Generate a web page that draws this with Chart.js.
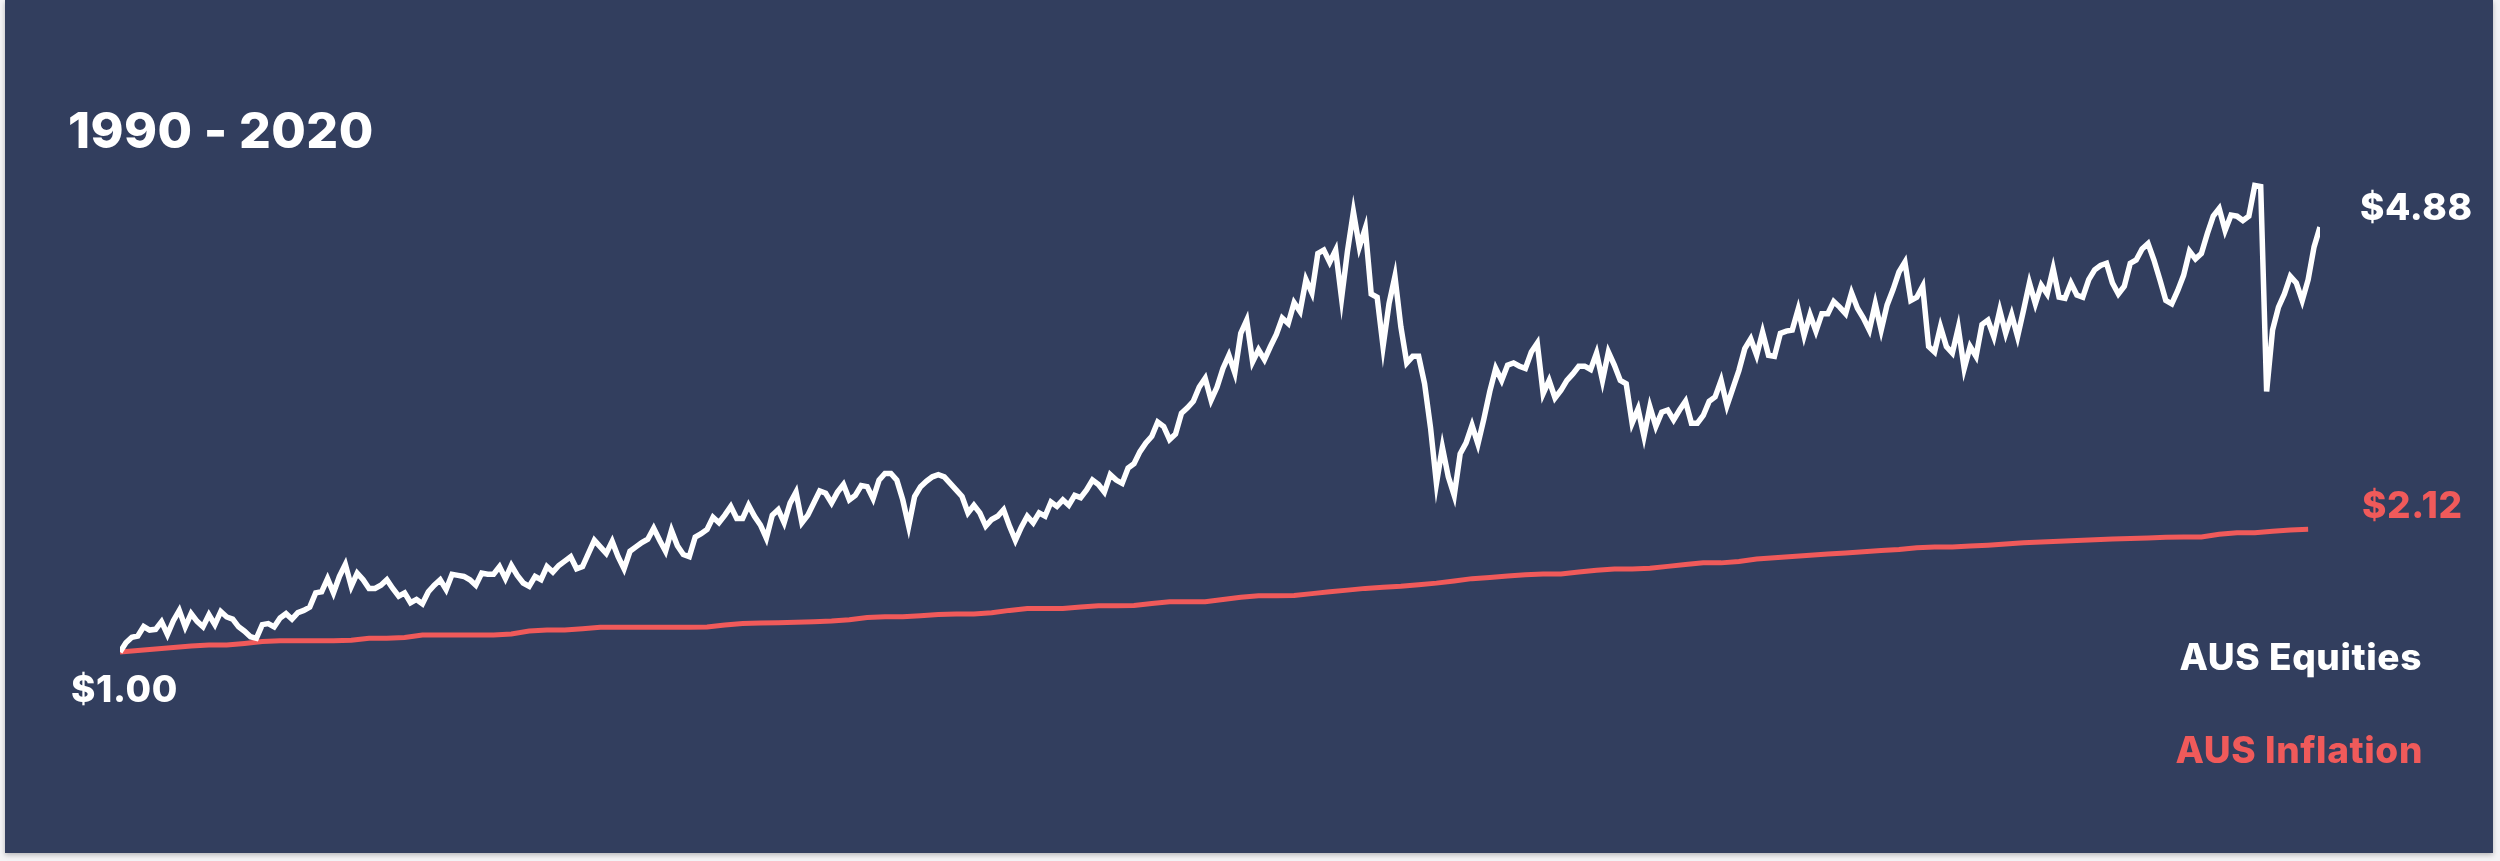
<!DOCTYPE html>
<html>
<head>
<meta charset="utf-8">
<script src="https://cdn.jsdelivr.net/npm/chart.js"></script>
<style>
  html, body { margin: 0; padding: 0; }
  body { width: 2500px; height: 861px; background: #f4f4f6; position: relative; overflow: hidden; font-family: Inter, "Noto Sans", sans-serif; }
  #panel { position: absolute; left: 5px; top: 0; width: 2488px; height: 853px; background: #323e5e; box-shadow: 0 2px 5px rgba(0,0,0,0.25); }
  #myChart { position: absolute; left: 0; top: 0; }
  .lbl { position: absolute; font-weight: 800; line-height: 1; white-space: nowrap; color: #ffffff; letter-spacing: 0.6px; }
  .red { color: #f05a5a; }
</style>
</head>
<body>
<div id="panel"></div>
<canvas id="myChart" width="2500" height="861"></canvas>
<div class="lbl" style="left:68px; top:105px; font-size:50px; letter-spacing:0.4px;">1990 - 2020</div>
<div class="lbl" style="left:71px; top:670px; font-size:37px;">$1.00</div>
<div class="lbl" style="left:2360px; top:188px; font-size:37px;">$4.88</div>
<div class="lbl red" style="left:2362px; top:486px; font-size:37px;">$2.12</div>
<div class="lbl" style="right:78px; top:638px; font-size:37px; text-align:right;">AUS Equities</div>
<div class="lbl red" style="right:77px; top:731px; font-size:37px; text-align:right;">AUS Inflation</div>
<script>
// growth of $1, monthly from Jan 1990 to Dec 2020
const equities = [
  1.00, 1.085, 1.134, 1.146, 1.232, 1.20, 1.207, 1.277, 1.16, 1.286,
  1.38, 1.23, 1.35, 1.28, 1.23, 1.34, 1.25, 1.37, 1.32, 1.30,
  1.23, 1.19, 1.14, 1.125, 1.25, 1.26, 1.23, 1.31, 1.35, 1.30,
  1.36, 1.38, 1.41, 1.54, 1.55, 1.67, 1.54, 1.69, 1.80, 1.60,
  1.72, 1.66, 1.58, 1.58, 1.61, 1.66, 1.58, 1.51, 1.54, 1.45,
  1.48, 1.44, 1.55, 1.61, 1.66, 1.57, 1.71, 1.70, 1.69, 1.66,
  1.61, 1.72, 1.71, 1.71, 1.78, 1.67, 1.79, 1.70, 1.63, 1.60,
  1.69, 1.66, 1.78, 1.73, 1.79, 1.83, 1.87, 1.76, 1.78, 1.90,
  2.02, 1.96, 1.90, 2.01, 1.87, 1.76, 1.92, 1.96, 2.00, 2.03,
  2.13, 2.02, 1.92, 2.11, 1.97, 1.89, 1.87, 2.05, 2.08, 2.12,
  2.23, 2.18, 2.25, 2.33, 2.22, 2.22, 2.34, 2.24, 2.16, 2.04,
  2.25, 2.30, 2.18, 2.36, 2.46, 2.18, 2.25, 2.36, 2.47, 2.45,
  2.36, 2.46, 2.53, 2.39, 2.43, 2.52, 2.51, 2.40, 2.57, 2.63,
  2.63, 2.57, 2.39, 2.15, 2.42, 2.51, 2.56, 2.60, 2.62, 2.60,
  2.54, 2.48, 2.42, 2.27, 2.34, 2.27, 2.15, 2.21, 2.24, 2.30,
  2.15, 2.02, 2.14, 2.24, 2.18, 2.27, 2.24, 2.37, 2.33, 2.39,
  2.34, 2.43, 2.41, 2.48, 2.57, 2.53, 2.46, 2.62, 2.57, 2.54,
  2.68, 2.72, 2.83, 2.91, 2.97, 3.10, 3.06, 2.94, 2.99, 3.18,
  3.23, 3.29, 3.42, 3.50, 3.30, 3.42, 3.59, 3.71, 3.55, 3.91,
  4.03, 3.65, 3.76, 3.67, 3.79, 3.90, 4.05, 4.00, 4.19, 4.11,
  4.40, 4.28, 4.64, 4.67, 4.56, 4.67, 4.23, 4.66, 5.02, 4.70,
  4.87, 4.27, 4.24, 3.79, 4.18, 4.43, 3.97, 3.64, 3.70, 3.70,
  3.45, 3.05, 2.54, 2.87, 2.60, 2.43, 2.81, 2.91, 3.07, 2.90,
  3.13, 3.38, 3.59, 3.48, 3.62, 3.64, 3.61, 3.59, 3.74, 3.82,
  3.36, 3.48, 3.32, 3.39, 3.48, 3.54, 3.61, 3.61, 3.58, 3.73,
  3.48, 3.74, 3.62, 3.48, 3.45, 3.09, 3.22, 2.97, 3.24, 3.06,
  3.19, 3.21, 3.12, 3.21, 3.29, 3.09, 3.09, 3.16, 3.29, 3.33,
  3.48, 3.25, 3.41, 3.57, 3.77, 3.86, 3.71, 3.92, 3.71, 3.70,
  3.91, 3.93, 3.94, 4.13, 3.89, 4.08, 3.93, 4.09, 4.09, 4.20,
  4.15, 4.09, 4.28, 4.14, 4.05, 3.94, 4.18, 3.94, 4.17, 4.31,
  4.47, 4.56, 4.21, 4.24, 4.34, 3.79, 3.74, 3.97, 3.79, 3.73,
  3.96, 3.59, 3.79, 3.70, 3.99, 4.03, 3.88, 4.12, 3.91, 4.08,
  3.88, 4.12, 4.37, 4.18, 4.35, 4.27, 4.50, 4.24, 4.23, 4.37,
  4.26, 4.24, 4.40, 4.49, 4.53, 4.55, 4.37, 4.27, 4.34, 4.55,
  4.58, 4.68, 4.73, 4.58, 4.40, 4.21, 4.18, 4.30, 4.44, 4.66,
  4.59, 4.64, 4.82, 4.98, 5.05, 4.85, 4.99, 4.98, 4.94, 4.98,
  5.26, 5.25, 3.38, 3.94, 4.15, 4.27, 4.43, 4.37, 4.21, 4.40,
  4.70, 4.88
]
// inflation index, quarterly from Q1 1990
const inflation = [
  1.000, 1.013, 1.027, 1.041, 1.054, 1.064, 1.064, 1.078, 1.095, 1.103,
  1.103, 1.103, 1.103, 1.108, 1.125, 1.125, 1.132, 1.155, 1.155, 1.155,
  1.155, 1.155, 1.164, 1.191, 1.200, 1.200, 1.213, 1.226, 1.226, 1.226,
  1.226, 1.226, 1.226, 1.229, 1.246, 1.261, 1.264, 1.268, 1.271, 1.277,
  1.284, 1.295, 1.314, 1.322, 1.322, 1.332, 1.343, 1.347, 1.347, 1.359,
  1.380, 1.397, 1.397, 1.397, 1.410, 1.423, 1.423, 1.424, 1.442, 1.458,
  1.458, 1.458, 1.480, 1.500, 1.513, 1.513, 1.516, 1.533, 1.550, 1.565,
  1.581, 1.591, 1.601, 1.615, 1.629, 1.648, 1.670, 1.681, 1.693, 1.705,
  1.713, 1.713, 1.730, 1.746, 1.759, 1.759, 1.765, 1.782, 1.800, 1.814,
  1.814, 1.827, 1.849, 1.861, 1.873, 1.884, 1.894, 1.905, 1.915, 1.926,
  1.936, 1.952, 1.959, 1.959, 1.967, 1.975, 1.986, 1.997, 2.005, 2.012,
  2.019, 2.025, 2.031, 2.036, 2.042, 2.049, 2.050, 2.051, 2.075, 2.090,
  2.090, 2.102, 2.115, 2.120
]
// months since Jan 1990 for each series
const equityMonths = equities.map((v, i) => i)
const inflationMonths = inflation.map((v, q) => q * 3)

const ctx = document.getElementById('myChart')

new Chart(ctx, {
  type: 'line',
  data: {
    datasets: [{
      label: 'AUS Inflation',
      data: inflation.map((v, i) => ({x: inflationMonths[i], y: v})),
      borderColor: '#f05a5a',
      borderWidth: 5,
      pointRadius: 0,
      tension: 0,
      order: 2
    }, {
      label: 'AUS Equities',
      data: equities.map((v, i) => ({x: equityMonths[i], y: v})),
      borderColor: '#ffffff',
      borderWidth: 5.5,
      pointRadius: 0,
      tension: 0,
      order: 1
    }]
  },
  options: {
    responsive: false,
    devicePixelRatio: 1,
    animation: false,
    layout: {
      padding: {left: 120, right: 180, top: 104.5, bottom: 99.5}
    },
    plugins: {
      legend: {display: false},
      tooltip: {enabled: false}
    },
    scales: {
      x: {type: 'linear', min: 0, max: 371, display: false},
      y: {min: 0, max: 6, display: false}
    }
  }
})
</script>
</body>
</html>
